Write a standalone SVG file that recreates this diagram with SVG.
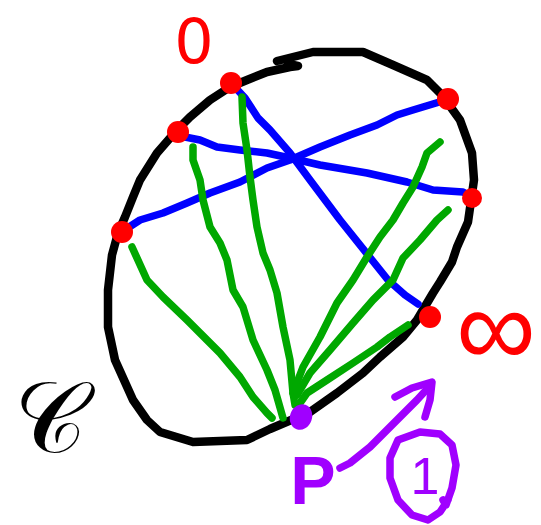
<svg xmlns="http://www.w3.org/2000/svg" width="541" height="525" viewBox="0 0 541 525">
<style>
.s{fill:none;stroke-linecap:round;stroke-linejoin:round}
.k{stroke:#000;stroke-width:8.5}
.b{stroke:#0000ff;stroke-width:7.5}
.g{stroke:#00a800;stroke-width:7.5}
.p{stroke:#a000ff;stroke-width:7.5}
.dot{fill:#ff0000}
.red{fill:#ff0000;font-family:"DejaVu Sans","Liberation Sans",sans-serif}
.pur{fill:#a000ff;font-family:"Liberation Sans","DejaVu Sans",sans-serif}
</style>
<rect width="541" height="525" fill="#fff"/>
<g id="conic">
<path class="s k" d="M277,61 L313,52 L363,52 L393,65 L427,80 L442,95 L460,120 L472,153 L474,180 L468,222 L457,247 L452,262 L440,282 L433,293 L417,320 L403,337 L380,357 L363,373 L337,393 L310,412 L270,429 L247,440 L193,442 L160,432 L147,420 L133,400 L115,360 L108,327 L108,290 L112,255 L118,233 L125,217 L133,197 L140,180 L157,153 L177,130 L190,117 L210,100 L230,87 L247,80 L267,72 L290,67 L298,66 L288,64"/>
</g>
<g id="connectors">
<path class="s b" d="M232,84 L245,98 L258,118 L270,130 L290,153 L310,180 L340,220 L372,260 L388,280 L405,295 L418,304"/>
<path class="s b" d="M180,136 L200,140 L217,147 L240,150 L267,153 L290,158 L320,165 L367,173 L407,182 L433,190 L463,192 L472,197"/>
<path class="s b" d="M123,231 L140,220 L163,213 L187,203 L210,193 L240,182 L267,168 L290,160 L320,147 L350,135 L377,125 L397,115 L413,110 L446,100"/>
<path class="s g" d="M132,247 L147,280 L163,297 L187,320 L207,340 L220,353 L240,377 L253,397 L267,413 L272,418"/>
<path class="s g" d="M193,147 L193,160 L200,180 L203,200 L210,227 L220,243 L227,260 L233,290 L243,307 L253,340 L267,370 L275,390 L283,418"/>
<path class="s g" d="M242,97 L243,123 L247,150 L250,177 L253,200 L257,227 L263,253 L270,270 L277,293 L283,327 L290,360 L293,393 L295,405"/>
<path class="s g" d="M440,142 L427,153 L422,167 L413,187 L403,203 L393,220 L380,237 L367,257 L353,280 L337,303 L320,337 L303,367 L293,393"/>
<path class="s g" d="M448,210 L437,220 L420,240 L403,258 L393,280 L373,300 L353,323 L330,350 L310,373 L297,395"/>
<path class="s g" d="M408,325 L390,337 L377,347 L353,363 L327,380 L307,393 L300,403"/>
</g>
<g id="point-0"><circle class="dot" cx="231" cy="83" r="11"/></g>
<g id="point-a"><circle class="dot" cx="178" cy="132" r="11"/></g>
<g id="point-b"><circle class="dot" cx="122" cy="232" r="11"/></g>
<g id="point-c"><circle class="dot" cx="448" cy="99" r="11"/></g>
<g id="point-d"><circle class="dot" cx="472" cy="198" r="10"/></g>
<g id="point-inf"><circle class="dot" cx="430" cy="317" r="11"/></g>
<g id="point-P"><ellipse cx="301" cy="417" rx="11" ry="13" transform="rotate(20 301 417)" fill="#a000ff"/></g>
<g id="label-0"><text class="red" x="194" y="63" font-size="62" text-anchor="middle">0</text></g>
<g id="label-inf"><text x="496" y="327" font-size="112" text-anchor="middle" dominant-baseline="central" fill="#ff0000" font-family="'Liberation Sans',sans-serif">∞</text></g>
<g id="label-C"><text x="50" y="452" font-size="100" text-anchor="middle" fill="#000" font-family="'DejaVu Serif','DejaVu Sans','Noto Sans',serif">𝒞</text></g>
<g id="label-P"><text class="pur" x="313" y="504" font-size="68" font-weight="bold" text-anchor="middle">P</text></g>
<g id="arrow">
<path class="s p" d="M340,468 L350,463 L370,447 L397,420 L417,400 L428,388"/>
<path class="s p" d="M395,397 L412,388 L432,382 L430,400 L425,417"/>
</g>
<g id="label-1">
<path class="s p" d="M443,500 L446,505 L452,488 L456,465 L452,445 L440,434 L420,432 L398,440 L390,458 L390,478 L398,500 L412,515 L428,520 L440,512 L448,500"/>
<text class="pur" x="425" y="494" font-size="52" text-anchor="middle">1</text>
</g>
</svg>
